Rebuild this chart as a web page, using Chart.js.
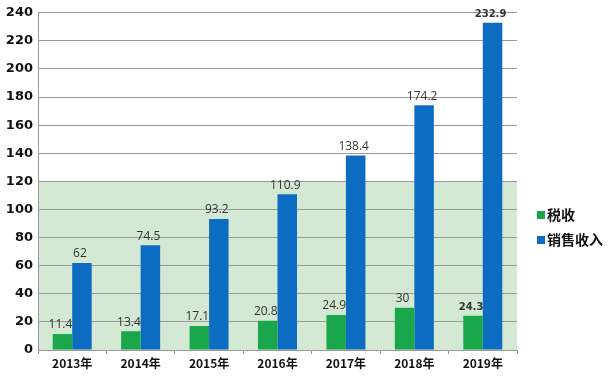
<!DOCTYPE html>
<html><head><meta charset="utf-8">
<script src="https://cdn.jsdelivr.net/npm/chart.js@4"></script>
<style>html,body{margin:0;padding:0;background:#fff}#wrap{width:616px;height:380px}</style>
</head><body><div id="wrap"><canvas id="c" width="616" height="380"></canvas></div>
<script>
const categories = ['2013年','2014年','2015年','2016年','2017年','2018年','2019年'];
const taxValues = [11.4, 13.4, 17.1, 20.8, 24.9, 30, 24.3];
const salesValues = [62, 74.5, 93.2, 110.9, 138.4, 174.2, 232.9];
const seriesNames = ['税收', '销售收入'];
const yTicks = [0,20,40,60,80,100,120,140,160,180,200,220,240];

const shadePlugin = {
  id: 'shade',
  beforeDraw(chart) {
    const {ctx, chartArea, scales} = chart;
    const y0 = scales.y.getPixelForValue(0), y1 = scales.y.getPixelForValue(120);
    ctx.save();
    ctx.fillStyle = '#d4e9d4';
    ctx.fillRect(chartArea.left, y1, chartArea.right - chartArea.left, y0 - y1);
    ctx.restore();
  }
};
const labelPlugin = {
  id: 'vlabels',
  afterDatasetsDraw(chart) {
    const ctx = chart.ctx;
    ctx.save();
    ctx.fillStyle = '#333';
    ctx.textAlign = 'center';
    ctx.textBaseline = 'bottom';
    chart.data.datasets.forEach((ds, di) => {
      const meta = chart.getDatasetMeta(di);
      meta.data.forEach((bar, i) => {
        const v = ds.data[i];
        ctx.font = (i === 6) ? 'bold 10px "DejaVu Sans"' : '12px "Open Sans"';
        ctx.fillText(String(v), bar.x - 2, bar.y - 3);
      });
    });
    ctx.restore();
  }
};
const legendPlugin = {
  id: 'mylegend',
  afterDraw(chart) {
    const ctx = chart.ctx;
    ctx.save();
    ctx.font = 'bold 14px "Noto Sans CJK SC"';
    ctx.textBaseline = 'middle';
    ctx.textAlign = 'left';
    chart.data.datasets.forEach((ds, i) => {
      const y = 215 + i * 25;
      ctx.fillStyle = ds.backgroundColor;
      ctx.fillRect(537, y - 4, 8, 8);
      ctx.fillStyle = '#111';
      ctx.fillText(ds.label, 547, y);
    });
    ctx.restore();
  }
};

new Chart(document.getElementById('c'), {
  type: 'bar',
  data: {
    labels: categories,
    datasets: [
      {label: seriesNames[0], data: taxValues, backgroundColor: '#1aa64a'},
      {label: seriesNames[1], data: salesValues, backgroundColor: '#0b6cc2'}
    ]
  },
  options: {
    responsive: false,
    animation: false,
    devicePixelRatio: 1,
    layout: {padding: {top: 0, right: 99, left: 0, bottom: 0}},
    plugins: {legend: {display: false}, tooltip: {enabled: false}},
    datasets: {bar: {barPercentage: 1, categoryPercentage: 0.57}},
    scales: {
      x: {
        grid: {display: true, drawOnChartArea: false, drawTicks: true, tickLength: 4, color: '#999', offset: true},
        border: {display: false},
        ticks: {color: '#111', font: {family: '"Noto Sans CJK SC"', weight: 'bold', size: 12}, padding: 2},
        afterFit(s) { s.height = 30; }
      },
      y: {
        min: 0, max: 240,
        afterBuildTicks(s) { s.ticks = yTicks.map(v => ({value: v})); },
        grid: {color: '#999', drawTicks: false},
        border: {display: true, color: '#999'},
        ticks: {color: '#111', font: {family: '"DejaVu Sans"', weight: 'bold', size: 13}, padding: 5},
        afterFit(s) { s.width = 38; }
      }
    }
  },
  plugins: [shadePlugin, labelPlugin, legendPlugin]
});
</script></body></html>
